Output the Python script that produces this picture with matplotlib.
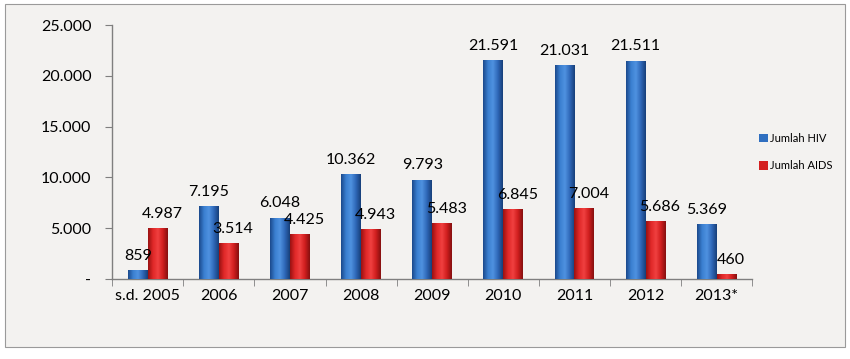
import numpy as np
import matplotlib
matplotlib.use("Agg")
from matplotlib import pyplot as plt
from matplotlib.patches import Rectangle
from matplotlib.colors import LinearSegmentedColormap

categories = ['s.d. 2005', '2006', '2007', '2008', '2009', '2010', '2011', '2012', '2013*']
hiv = [859, 7195, 6048, 10362, 9793, 21591, 21031, 21511, 5369]
aids = [4987, 3514, 4425, 4943, 5483, 6845, 7004, 5686, 460]

def fmt(v):
    return f'{v:,}'.replace(',', '.')

plt.rcParams['font.family'] = ['Lato', 'DejaVu Sans']

fig = plt.figure(figsize=(8.5, 3.59), dpi=100, facecolor='white')
# outer chart frame
fig.patches.append(Rectangle((0.006, 0.033), 0.988, 0.955, transform=fig.transFigure,
                             facecolor='#f3f2f0', edgecolor='#9a9a9a', lw=0.8, zorder=-10))
ax = fig.add_axes([0.132, 0.223, 0.753, 0.707])
ax.set_facecolor('none')

blue_cm = LinearSegmentedColormap.from_list('b', ['#1b4a8c', '#3a7fd0', '#4f92e0', '#2f68b8', '#173f7a'])
red_cm = LinearSegmentedColormap.from_list('r', ['#9a1212', '#e02828', '#f04040', '#d01e1e', '#861010'])
grad = np.linspace(0, 1, 64).reshape(1, -1)

x = np.arange(len(categories))
w = 0.28

def bars(xs, vals, cmap, col):
    rects = ax.bar(xs, vals, w, color=col, zorder=2)
    for r in rects:
        x0, y0 = r.get_x(), r.get_y()
        im = ax.imshow(grad, cmap=cmap, aspect='auto', zorder=3,
                       extent=[x0, x0 + r.get_width(), y0, y0 + r.get_height()])
        im.set_clip_path(r)
    return rects

hb = bars(x - w / 2, hiv, blue_cm, '#2f6fc0')
rb = bars(x + w / 2, aids, red_cm, '#d42020')

for i in range(len(categories)):
    ax.text(x[i] - w / 2, hiv[i] + 700, fmt(hiv[i]), ha='center', va='bottom', fontsize=11.5, color='black')
    ax.text(x[i] + w / 2 + 0.06, aids[i] + 700, fmt(aids[i]), ha='center', va='bottom', fontsize=11.5, color='black')

ax.set_xlim(-0.5, len(categories) - 0.5)
ax.set_ylim(0, 25000)
ax.set_yticks(np.arange(0, 25001, 5000))
ax.set_yticklabels(['-'] + [fmt(v) for v in range(5000, 25001, 5000)], fontsize=11.5)
ax.set_xticks(x)
ax.set_xticklabels(categories, fontsize=11.5)
ax.set_xticks(np.arange(-0.5, len(categories), 1), minor=True)
ax.tick_params(axis='x', which='major', length=0, pad=7)
ax.tick_params(axis='x', which='minor', length=5, direction='out', color='#7f7f7f')
ax.tick_params(axis='y', length=5, direction='out', color='#7f7f7f', pad=10)
for s in ['top', 'right']:
    ax.spines[s].set_visible(False)
for s in ['left', 'bottom']:
    ax.spines[s].set_color('#7f7f7f')
    ax.spines[s].set_linewidth(1)

leg = ax.legend([hb, rb], ['Jumlah HIV', 'Jumlah AIDS'], loc='center left', bbox_to_anchor=(0.995, 0.5),
                frameon=False, fontsize=8, handlelength=0.8, handleheight=0.8,
                handletextpad=0.2, labelspacing=1.5)

fig.savefig('out.png', dpi=100, facecolor='white')
